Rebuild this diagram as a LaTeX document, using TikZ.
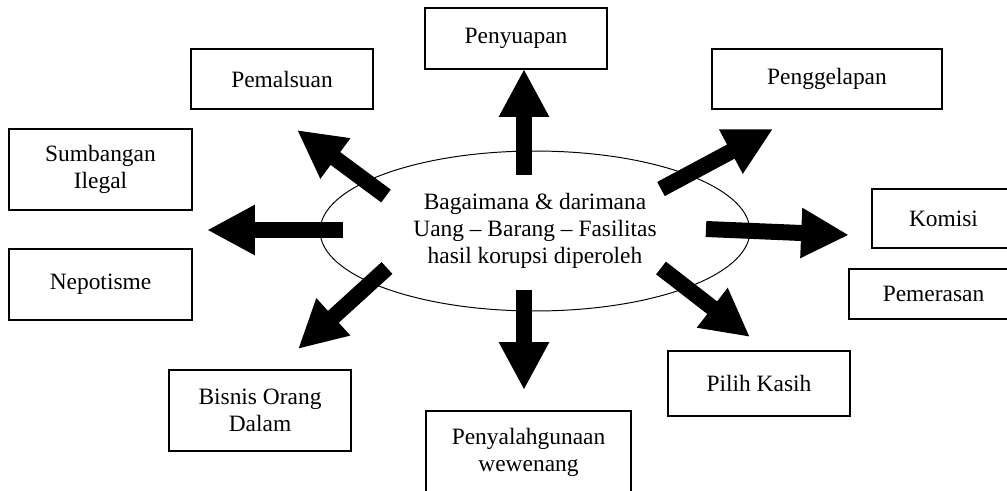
\documentclass[tikz,border=0pt]{standalone}
\usepackage{fontspec}
\setmainfont{Liberation Serif}
\usetikzlibrary{arrows.meta,shapes.geometric}

\begin{document}
\begin{tikzpicture}[x=0.018cm,y=-0.018cm,inner sep=1pt,
  kotak/.style={draw,line width=0.9pt,align=center,font=\fontsize{12}{13.8}\selectfont},
  panah/.style={line width=8.2pt,-{Triangle[width=24pt,length=24.5pt]}}]
\path[use as bounding box,clip] (0,0) rectangle (1007,490);
\node[ellipse,draw,line width=0.5pt,minimum width=7.74cm,minimum height=2.88cm,
  align=center,font=\fontsize{12}{13.8}\selectfont] (pusat) at (535,231)
  {Bagaimana \& darimana\\Uang -- Barang -- Fasilitas\\hasil korupsi diperoleh};
\node[kotak,minimum width=3.28cm,minimum height=1.10cm] (suap) at (516,38.5) {Penyuapan};
\node[kotak,minimum width=3.28cm,minimum height=1.08cm] (palsu) at (282,79) {Pemalsuan};
\node[kotak,minimum width=4.14cm,minimum height=1.08cm] (gelap) at (827,79) {Penggelapan};
\node[kotak,minimum width=3.29cm,minimum height=1.46cm] (sumbang) at (100.5,169.5) {Sumbangan\\Ilegal};
\node[kotak,minimum width=3.29cm,minimum height=1.28cm] (nepo) at (100.5,284.5) {Nepotisme};
\node[kotak,minimum width=2.57cm,minimum height=1.06cm] (komisi) at (943.5,218.5) {Komisi};
\node[kotak,minimum width=3.04cm,minimum height=0.90cm] (peras) at (933.5,294) {Pemerasan};
\node[kotak,minimum width=3.28cm,minimum height=1.46cm] (bisnis) at (260,410.5) {Bisnis Orang\\Dalam};
\node[kotak,minimum width=3.69cm,minimum height=1.48cm] (wenang) at (528.5,452) {Penyalahgunaan\\wewenang};
\node[kotak,minimum width=3.28cm,minimum height=1.17cm] (pilih) at (759,383.5) {Pilih Kasih};
% pangkal dan ujung panah
\coordinate (t1) at (524,175); \coordinate (h1) at (524,69);
\coordinate (t2) at (386,196); \coordinate (h2) at (297,130);
\coordinate (t3) at (343,230); \coordinate (h3) at (207,230);
\coordinate (t4) at (387,268); \coordinate (h4) at (298,349);
\coordinate (t5) at (524,290); \coordinate (h5) at (524,390);
\coordinate (t6) at (661,268); \coordinate (h6) at (750,337);
\coordinate (t7) at (706,229); \coordinate (h7) at (849,235);
\coordinate (t8) at (661,189); \coordinate (h8) at (773,129);
\draw[panah] (t1) -- (h1);
\draw[panah] (t2) -- (h2);
\draw[panah] (t3) -- (h3);
\draw[panah] (t4) -- (h4);
\draw[panah] (t5) -- (h5);
\draw[panah] (t6) -- (h6);
\draw[panah] (t7) -- (h7);
\draw[panah] (t8) -- (h8);
\end{tikzpicture}
\end{document}
